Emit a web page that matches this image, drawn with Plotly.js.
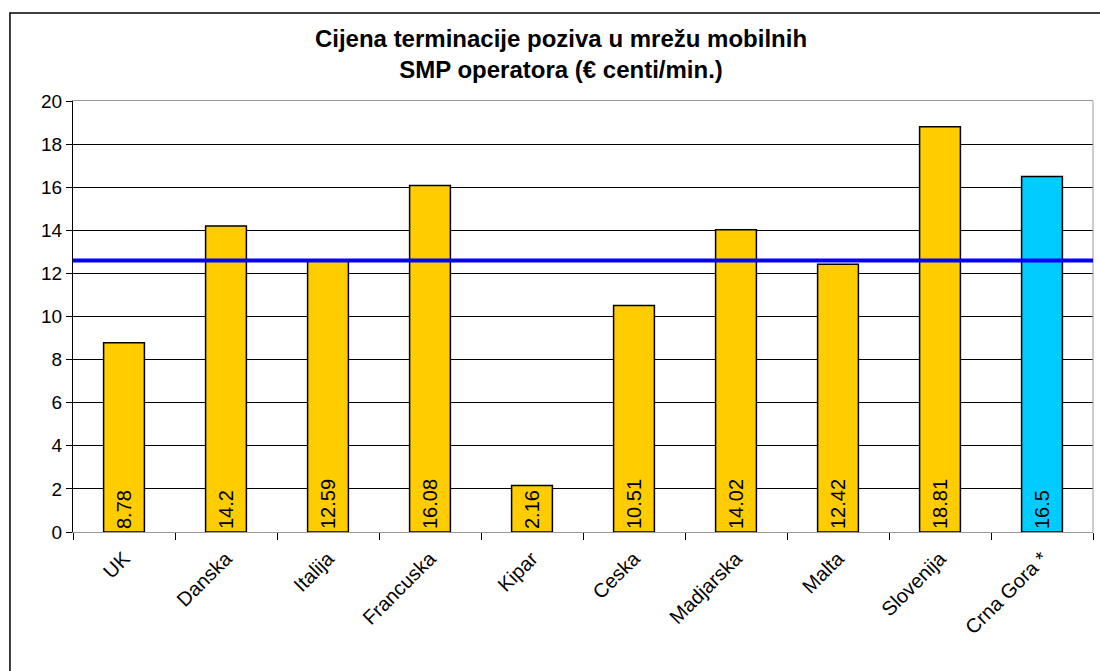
<!DOCTYPE html>
<html>
<head>
<meta charset="utf-8">
<script src="https://cdn.plot.ly/plotly-3.0.1.min.js"></script>
<style>html,body{margin:0;padding:0;background:#fff;}#chart{width:1100px;height:671px;}</style>
</head>
<body>
<div id="chart"></div>
<script>
const categories = ["UK", "Danska", "Italija", "Francuska", "Kipar", "Ceska", "Madjarska", "Malta", "Slovenija", "Crna Gora *"];
const values = [8.78, 14.2, 12.59, 16.08, 2.16, 10.51, 14.02, 12.42, 18.81, 16.5];
const labels = ["8.78", "14.2", "12.59", "16.08", "2.16", "10.51", "14.02", "12.42", "18.81", "16.5"];
const barColors = ["#FFCC00", "#FFCC00", "#FFCC00", "#FFCC00", "#FFCC00", "#FFCC00", "#FFCC00", "#FFCC00", "#FFCC00", "#00CCFF"];
const averageValue = 12.6;
const yTicks = [0, 2, 4, 6, 8, 10, 12, 14, 16, 18, 20];

const font = "Arial, 'Liberation Sans', sans-serif";

const trace = {
  type: "bar",
  x: categories,
  y: values,
  text: labels,
  textposition: "inside",
  insidetextanchor: "start",
  textangle: -90,
  constraintext: "none",
  insidetextfont: {family: font, size: 20, color: "#000"},
  marker: {color: barColors, line: {color: "#000", width: 1.5}},
  hoverinfo: "none"
};

const layout = {
  width: 1100, height: 671,
  margin: {l: 73, r: 7, t: 101, b: 139},
  paper_bgcolor: "#fff",
  plot_bgcolor: "#fff",
  showlegend: false,
  bargap: 0.6,
  font: {family: font, color: "#000"},
  title: {
    text: "<b>Cijena terminacije poziva u mrežu mobilnih<br>SMP operatora (€ centi/min.)</b>",
    font: {family: font, size: 24, color: "#000"},
    x: 0.51, xanchor: "center", y: 0.93, yanchor: "top"
  },
  xaxis: {
    type: "category",
    showgrid: false,
    showline: true, linecolor: "#999", linewidth: 1, mirror: true,
    ticks: "outside", tickson: "boundaries", ticklen: 7, tickcolor: "#000",
    tickangle: -45,
    ticklabelstandoff: 6,
    tickfont: {family: font, size: 20, color: "#000"},
    fixedrange: true
  },
  yaxis: {
    range: [0, 20],
    tickvals: yTicks,
    ticktext: yTicks.map(String),
    showgrid: true, gridcolor: "#000", gridwidth: 1,
    zeroline: false,
    showline: true, linecolor: "#000", linewidth: 1,
    ticks: "outside", ticklen: 6, tickcolor: "#000",
    tickfont: {family: font, size: 19, color: "#000"},
    fixedrange: true
  },
  shapes: [
    {type: "line", xref: "paper", yref: "paper", x0: 1, x1: 1, y0: 0, y1: 1, line: {color: "#999", width: 1}},
    {type: "line", xref: "paper", yref: "y", x0: 0, x1: 1, y0: averageValue, y1: averageValue, line: {color: "#0000FF", width: 4}, layer: "above"},
    {type: "rect", xref: "paper", yref: "paper", x0: -0.0618, x1: 1.2, y0: -0.5, y1: 1.204, line: {color: "#000", width: 1.5}, fillcolor: "rgba(0,0,0,0)"}
  ]
};

Plotly.newPlot("chart", [trace], layout, {displayModeBar: false, staticPlot: true});
</script>
</body>
</html>
